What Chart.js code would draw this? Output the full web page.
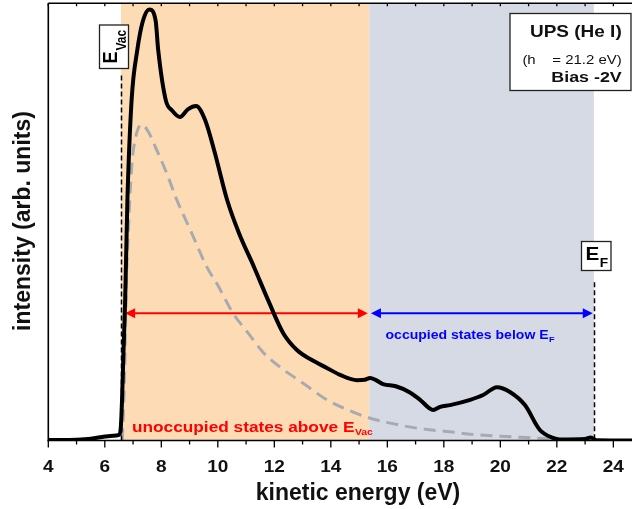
<!DOCTYPE html>
<html>
<head>
<meta charset="utf-8">
<script src="https://cdn.jsdelivr.net/npm/chart.js@4.4.1/dist/chart.umd.min.js"></script>
<style>
  body { margin: 0; background: #fff; }
  #wrap { width: 632px; height: 509px; }
</style>
</head>
<body>
<div id="wrap"><canvas id="upsChart"></canvas></div>
<script>
// UPS spectrum: kinetic energy (eV) vs intensity (arb. units)
const energy = [4, 5, 5.5, 6, 6.3, 6.5, 6.56, 6.61, 6.66, 6.72, 6.8, 6.95, 7.15, 7.35, 7.58, 7.8, 7.89, 8.16, 8.38, 8.66,
  8.95, 9.23, 9.55, 9.87, 10.33, 10.75, 11.28, 11.78, 12.31, 12.8, 13.33, 13.86, 14.33, 14.93, 15.2, 15.39, 15.6, 15.85,
  16.3, 16.8, 17.16, 17.62, 17.87, 18.22, 18.93, 19.39, 19.88, 20.34, 20.87, 21.4, 21.86, 22.1, 23.0, 23.2, 23.4, 24.66];
const intensity = [0.1, 0.2, 0.4, 0.9, 1.1, 1.3, 2.5, 9.3, 20, 32, 55, 78, 89.3, 96, 98.6, 96, 89.3, 77.8, 75.5, 74,
  75.8, 76.5, 73.3, 66.4, 55, 47.4, 39.7, 32.1, 24.6, 20.7, 18.4, 16.6, 15.0, 13.8, 13.9, 14.3, 13.8, 12.9,
  12.4, 11.0, 9.3, 7.0, 7.7, 8.1, 9.3, 10.4, 12.2, 11.1, 8.1, 2.4, 0.6, 0.25, 0.35, 0.7, 0.05, 0];

// secondary electron background (dashed)
const bgEnergy = [6.62, 6.7, 6.76, 6.83, 6.95, 7.07, 7.31, 7.55, 7.84, 8.2, 8.55, 9.08, 9.61, 10.0, 10.54, 11.07, 11.6,
  12.2, 13.02, 13.86, 14.6, 15.39, 16.45, 17.3, 18.22, 19.0, 19.99, 21.4, 21.9];
const bgIntensity = [0, 15, 35, 47.4, 62.5, 68.7, 72.3, 70.5, 66.4, 61, 55, 47.4, 39.7, 35.5, 29.1, 24.6, 20.2,
  16.8, 13.1, 9.3, 7.0, 5.1, 3.5, 2.6, 2.0, 1.4, 1.0, 0.5, 0.3];

const xTicks = [4, 6, 8, 10, 12, 14, 16, 18, 20, 22, 24];

// energy markers
const eVac = 6.57;
const eSplit = 15.36;
const eF = 23.31;
const eVacLineTop = 83.5;
const eFLineTop = 36.2;
const arrowLevel = 29.1;
const unoccArrow = [6.72, 15.31];
const occArrow = [15.42, 23.27];

const FONT = '"Liberation Sans", Arial, sans-serif';
const SX = 1.15; // horizontal stretch of the lettering

function drawText(ctx, s, x, y, font, color, align, sx) {
  const k = sx || SX;
  ctx.save();
  ctx.font = font;
  ctx.fillStyle = color;
  ctx.textAlign = align || 'left';
  ctx.textBaseline = 'alphabetic';
  ctx.translate(x, y);
  ctx.scale(k, 1);
  ctx.fillText(s, 0, 0);
  const w = ctx.measureText(s).width * k;
  ctx.restore();
  return w;
}

function drawBox(ctx, x, y, w, h) {
  ctx.save();
  ctx.fillStyle = '#fff';
  ctx.strokeStyle = '#222';
  ctx.lineWidth = 1.3;
  ctx.fillRect(x, y, w, h);
  ctx.strokeRect(x, y, w, h);
  ctx.restore();
}

function drawArrow(ctx, x1, x2, y, color) {
  const head = 10, half = 5;
  ctx.save();
  ctx.strokeStyle = color;
  ctx.fillStyle = color;
  ctx.lineWidth = 2;
  ctx.beginPath();
  ctx.moveTo(x1 + head - 1, y);
  ctx.lineTo(x2 - head + 1, y);
  ctx.stroke();
  ctx.beginPath();
  ctx.moveTo(x1, y); ctx.lineTo(x1 + head, y - half); ctx.lineTo(x1 + head, y + half); ctx.closePath();
  ctx.fill();
  ctx.beginPath();
  ctx.moveTo(x2, y); ctx.lineTo(x2 - head, y - half); ctx.lineTo(x2 - head, y + half); ctx.closePath();
  ctx.fill();
  ctx.restore();
}

const regions = {
  id: 'regions',
  beforeDatasetsDraw(chart) {
    const { ctx, chartArea: a, scales: { x, y } } = chart;
    const px0 = x.getPixelForValue(eVac);
    const px1 = x.getPixelForValue(eSplit);
    const px2 = x.getPixelForValue(eF);
    ctx.save();
    ctx.fillStyle = '#FDDCB5';
    ctx.fillRect(px0, a.top, px1 - px0, a.bottom - a.top);
    ctx.fillStyle = '#D6DAE5';
    ctx.fillRect(px1, a.top, px2 - px1, a.bottom - a.top);
    ctx.restore();

    const ay = y.getPixelForValue(arrowLevel);
    drawArrow(ctx, x.getPixelForValue(unoccArrow[0]), x.getPixelForValue(unoccArrow[1]), ay, '#FF0000');
    drawArrow(ctx, x.getPixelForValue(occArrow[0]), x.getPixelForValue(occArrow[1]), ay, '#0000FF');
  }
};

const frame = {
  id: 'frame',
  afterDatasetsDraw(chart) {
    const { ctx, chartArea: a, scales: { x, y } } = chart;
    ctx.save();

    // E_vac and E_F markers
    ctx.strokeStyle = '#000';
    ctx.lineWidth = 1.5;
    ctx.setLineDash([5, 3]);
    [[eVac, eVacLineTop], [eF, eFLineTop]].forEach(([e, top]) => {
      const px = Math.round(x.getPixelForValue(e)) + 0.5;
      ctx.beginPath();
      ctx.moveTo(px, y.getPixelForValue(top));
      ctx.lineTo(px, a.bottom);
      ctx.stroke();
    });
    ctx.setLineDash([]);

    // axes
    ctx.lineWidth = 1.6;
    ctx.beginPath();
    ctx.moveTo(a.left, a.top); ctx.lineTo(a.right, a.top);
    ctx.moveTo(a.left, a.top); ctx.lineTo(a.left, a.bottom);
    ctx.moveTo(a.left - 1, a.bottom); ctx.lineTo(a.right, a.bottom);
    ctx.stroke();

    ctx.lineWidth = 1.3;
    ctx.beginPath();
    for (let v = 4; v <= 24; v++) {
      const px = x.getPixelForValue(v);
      const len = v % 2 === 0 ? 7 : 4;
      ctx.moveTo(px, a.bottom); ctx.lineTo(px, a.bottom + len);
      ctx.moveTo(px, a.top); ctx.lineTo(px, a.top + 3);
    }
    ctx.stroke();
    ctx.restore();

    xTicks.forEach(v => {
      drawText(ctx, String(v), x.getPixelForValue(v), 472, 'bold 17px ' + FONT, '#111', 'center', 1.12);
    });

    drawText(ctx, 'kinetic energy (eV)', 358, 500, 'bold 23px ' + FONT, '#111', 'center', 1.0);

    ctx.save();
    ctx.translate(30, 221);
    ctx.rotate(-Math.PI / 2);
    ctx.font = 'bold 23px ' + FONT;
    ctx.fillStyle = '#111';
    ctx.textAlign = 'center';
    ctx.fillText('intensity (arb. units)', 0, 0);
    ctx.restore();

    // region labels
    let w = drawText(ctx, 'unoccupied states above E', 132, 431.7, 'bold 15px ' + FONT, '#FF0000');
    drawText(ctx, 'Vac', 132 + w + 0.5, 434.5, 'bold 9px ' + FONT, '#FF0000');
    w = drawText(ctx, 'occupied states below E', 385.5, 339, 'bold 13px ' + FONT, '#0000FF', 'left', 1.08);
    drawText(ctx, 'F', 385.5 + w + 0.5, 341.5, 'bold 8px ' + FONT, '#0000FF');

    // E_Vac tag (rotated)
    drawBox(ctx, 99.5, 25, 29, 43.5);
    ctx.save();
    ctx.translate(116.5, 63.5);
    ctx.rotate(-Math.PI / 2);
    ctx.scale(1, SX);
    ctx.fillStyle = '#000';
    ctx.font = 'bold 18px ' + FONT;
    ctx.fillText('E', 0, 0);
    const ew = ctx.measureText('E').width;
    ctx.font = 'bold 12px ' + FONT;
    ctx.fillText('Vac', ew + 1, 8.5);
    ctx.restore();

    // E_F tag
    drawBox(ctx, 581.5, 241.5, 29.5, 29);
    w = drawText(ctx, 'E', 585.5, 260, 'bold 18px ' + FONT, '#000');
    drawText(ctx, 'F', 585.5 + w + 0.5, 266.5, 'bold 12px ' + FONT, '#000');

    // measurement info
    drawBox(ctx, 510, 13.5, 121, 77);
    drawText(ctx, 'UPS (He I)', 621.7, 37.3, 'bold 16.5px ' + FONT, '#111', 'right');
    drawText(ctx, '(h    = 21.2 eV)', 621.7, 64.2, '13px ' + FONT, '#111', 'right');
    drawText(ctx, 'Bias -2V', 621.7, 81.7, 'bold 15.5px ' + FONT, '#111', 'right');
  }
};

const toPoints = (xs, ys) => xs.map((v, i) => ({ x: v, y: ys[i] }));

new Chart(document.getElementById('upsChart'), {
  type: 'line',
  data: {
    datasets: [
      {
        label: 'spectrum',
        data: toPoints(energy, intensity),
        borderColor: '#000',
        borderWidth: 4,
        pointRadius: 0,
        cubicInterpolationMode: 'monotone',
        fill: false
      },
      {
        label: 'background',
        data: toPoints(bgEnergy, bgIntensity),
        borderColor: '#A7AAAF',
        borderWidth: 3,
        borderDash: [12, 7],
        pointRadius: 0,
        cubicInterpolationMode: 'monotone',
        fill: false
      }
    ]
  },
  options: {
    responsive: true,
    maintainAspectRatio: false,
    animation: false,
    layout: { padding: { left: 48.3, top: 3.3, right: 0, bottom: 68.5 } },
    plugins: { legend: { display: false }, tooltip: { enabled: false } },
    scales: {
      x: { type: 'linear', min: 4, max: 24.66, display: false },
      y: { type: 'linear', min: 0, max: 100, display: false }
    }
  },
  plugins: [regions, frame]
});
</script>
</body>
</html>
